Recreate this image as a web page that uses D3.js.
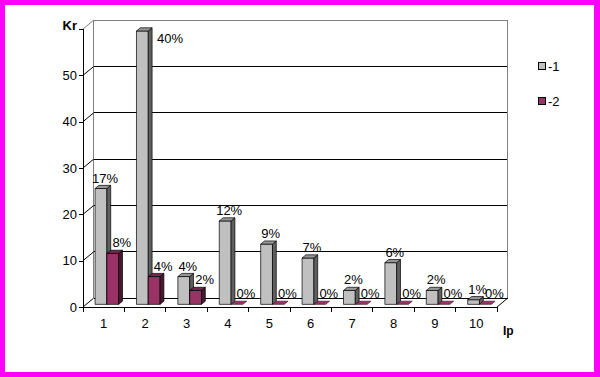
<!DOCTYPE html>
<html lang="en">
<head>
<meta charset="UTF-8">
<title>Kr / Ip</title>
<script src="https://d3js.org/d3.v7.min.js"></script>
<style>
  html, body { margin: 0; padding: 0; background: #fff; }
  svg { display: block; font-family: Arial, "Liberation Sans", sans-serif; }
</style>
</head>
<body>
<div id="chart"></div>
<script>
// Data
const categories = ["1", "2", "3", "4", "5", "6", "7", "8", "9", "10"];
const seriesNames = ["-1", "-2"];
const values1 = [25, 59, 6, 18, 13, 10, 3, 9, 3, 1];
const values2 = [11, 6, 3, 0, 0, 0, 0, 0, 0, 0];
const labels1 = ["17%", "40%", "4%", "12%", "9%", "7%", "2%", "6%", "2%", "1%"];
const labels2 = ["8%", "4%", "2%", "0%", "0%", "0%", "0%", "0%", "0%", "0%"];
const yTicks = [0, 10, 20, 30, 40, 50];
const yMax = 60;
const yTitle = "Kr";
const xTitle = "Ip";

const W = 600, H = 377;
const DX = 10.6, DY = -8.8;      // depth of the 3D box
const Z0 = 0.3, Z1 = 0.66;       // depth of the bars inside the box

const colors = {
  "-1": { front: "#C0C0C0", top: "#979797", side: "#5f5f5f" },
  "-2": { front: "#993366", top: "#74264d", side: "#4a1830" }
};
// label shift to the right of the bar centre, per series
const labelShift = { "-1": 4, "-2": 9 };

const svg = d3.select("#chart").append("svg")
  .attr("width", W).attr("height", H);

// magenta frame
svg.append("rect").attr("width", W).attr("height", H).attr("fill", "#FF00FF");
svg.append("rect").attr("x", 5).attr("y", 5).attr("width", W - 11).attr("height", H - 10).attr("fill", "#fff");

// scales
const x = d3.scaleBand().domain(categories).range([83, 497]);
const bw = x.bandwidth();
const xs = d3.scaleBand().domain(seriesNames).range([bw / 2 - 11.8, bw / 2 + 11.8]);
const y = d3.scaleLinear().domain([0, yMax]).range([307, 29]);

const [x0, x1] = x.range();
const g = svg.append("g");

// back wall gridlines
g.append("g").selectAll("line").data(yTicks).join("line")
  .attr("x1", x0 + DX).attr("x2", x1 + DX)
  .attr("y1", d => y(d) + DY).attr("y2", d => y(d) + DY)
  .attr("stroke", "#000").attr("shape-rendering", "crispEdges");
// wall top and side edges
g.append("line").attr("x1", x0 + DX).attr("x2", x1 + DX)
  .attr("y1", y(yMax) + DY).attr("y2", y(yMax) + DY)
  .attr("stroke", "#808080").attr("shape-rendering", "crispEdges");
[x0 + DX, x1 + DX].forEach(xx => {
  g.append("line").attr("x1", xx).attr("x2", xx)
    .attr("y1", y(yMax) + DY).attr("y2", y(0) + DY)
    .attr("stroke", "#808080").attr("stroke-width", xx > 300 ? 1.5 : 1)
    .attr("shape-rendering", "crispEdges");
});
// diagonals from the front axis to the wall
g.append("g").selectAll("line").data(yTicks.concat([yMax])).join("line")
  .attr("x1", x0).attr("y1", d => y(d))
  .attr("x2", x0 + DX).attr("y2", d => y(d) + DY)
  .attr("stroke", d => d === yMax ? "#808080" : "#000");
g.append("line").attr("x1", x1).attr("y1", y(0)).attr("x2", x1 + DX).attr("y2", y(0) + DY)
  .attr("stroke", "#000");

// y axis
const yAxis = d3.axisLeft(y).tickValues(yTicks.concat([yMax]))
  .tickFormat(d => d === yMax ? "" : d).tickSize(4).tickSizeOuter(0);
const ya = svg.append("g").attr("transform", `translate(${x0},0)`).call(yAxis);
ya.select(".domain").remove();
ya.selectAll("line").attr("shape-rendering", "crispEdges");
ya.selectAll("text").attr("font-size", 13).attr("font-family", "Arial, 'Liberation Sans', sans-serif").attr("x", -6);
ya.append("line").attr("x1", 0).attr("x2", 0).attr("y1", y(yMax)).attr("y2", y(0))
  .attr("stroke", "#000").attr("shape-rendering", "crispEdges");
svg.append("text").attr("x", 77).attr("y", y(yMax) + 1).attr("text-anchor", "end")
  .attr("font-size", 13).attr("font-weight", "bold").text(yTitle);

// x axis
const xAxis = d3.axisBottom(x).tickSize(0).tickSizeOuter(0);
const xa = svg.append("g").attr("transform", `translate(0,${y(0)})`).call(xAxis);
xa.select(".domain").remove();
xa.selectAll("text").attr("font-size", 13).attr("font-family", "Arial, 'Liberation Sans', sans-serif").attr("dy", "1.4em");
xa.append("line").attr("x1", x0).attr("x2", x1).attr("y1", 0).attr("y2", 0)
  .attr("stroke", "#000").attr("shape-rendering", "crispEdges");
xa.append("g").selectAll("line").data(categories.map(c => x(c)).concat([x1])).join("line")
  .attr("x1", d => d).attr("x2", d => d).attr("y1", 0).attr("y2", 5)
  .attr("stroke", "#000").attr("shape-rendering", "crispEdges");
svg.append("text").attr("x", 503).attr("y", 335)
  .attr("font-size", 12).attr("font-weight", "bold").text(xTitle);

// bars
const bars = [];
categories.forEach((c, i) => {
  bars.push({ cat: c, s: "-1", v: values1[i], label: labels1[i] });
  bars.push({ cat: c, s: "-2", v: values2[i], label: labels2[i] });
});

const ddx = (Z1 - Z0) * DX, ddy = (Z1 - Z0) * DY;
function geom(d) {
  const xl = x(d.cat) + xs(d.s) + Z0 * DX;
  const xr = xl + xs.bandwidth();
  const yb = y(0) + Z0 * DY;
  const yt = y(d.v) + Z0 * DY;
  return { xl, xr, yb, yt };
}
const pts = a => a.map(p => p.join(",")).join(" ");

const barG = svg.append("g").selectAll("g").data(bars).join("g");
barG.each(function (d) {
  const { xl, xr, yb, yt } = geom(d);
  const sel = d3.select(this);
  const col = colors[d.s];
  if (d.v > 0) {
    sel.append("polygon").attr("points", pts([[xl, yb], [xr, yb], [xr, yt], [xl, yt]]))
      .attr("fill", col.front).attr("stroke", "#000").attr("stroke-width", 0.7);
    sel.append("polygon").attr("points", pts([[xr, yb], [xr + ddx, yb + ddy], [xr + ddx, yt + ddy], [xr, yt]]))
      .attr("fill", col.side).attr("stroke", "#000").attr("stroke-width", 0.7);
  }
  sel.append("polygon").attr("points", pts([[xl, yt], [xr, yt], [xr + ddx, yt + ddy], [xl + ddx, yt + ddy]]))
    .attr("fill", d.v > 0 ? col.top : col.front).attr("stroke", d.v > 0 ? "#000" : col.side).attr("stroke-width", 0.7);
});

// value labels
const lab = svg.append("g").attr("font-size", 13);
bars.forEach(d => {
  const { xl, xr, yt } = geom(d);
  let tx = (xl + xr) / 2 + labelShift[d.s], ty = yt - 6, anchor = "middle";
  if (ty - 10 < y(yMax) + DY) {  // no room above: put it beside the bar
    tx = xr + ddx + 5; ty = yt + 12; anchor = "start";
  }
  lab.append("text").attr("x", tx).attr("y", ty).attr("text-anchor", anchor).text(d.label);
});

// legend
const leg = svg.append("g").selectAll("g").data(seriesNames).join("g")
  .attr("transform", (d, i) => `translate(538,${62 + i * 35})`);
leg.append("rect").attr("width", 7).attr("height", 7)
  .attr("fill", d => colors[d].front).attr("stroke", "#000").attr("shape-rendering", "crispEdges");
leg.append("text").attr("x", 10).attr("y", 9).attr("font-size", 13).text(d => d);
</script>
</body>
</html>
